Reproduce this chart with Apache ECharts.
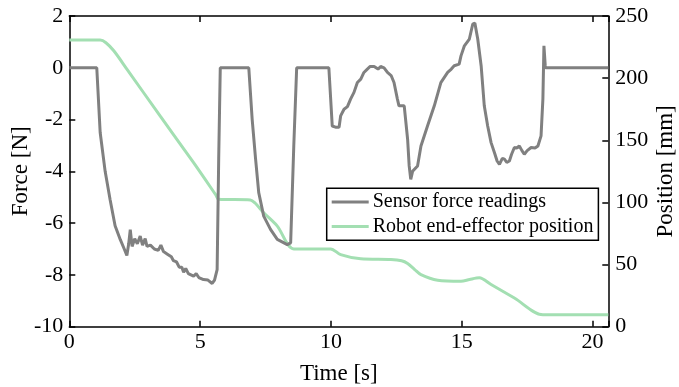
<!DOCTYPE html>
<html>
<head>
<meta charset="utf-8">
<script src="https://cdn.jsdelivr.net/npm/echarts@6/dist/echarts.min.js"></script>
<style>
html,body{margin:0;padding:0;background:#fff;}
#chart{width:679px;height:387px;}
</style>
</head>
<body>
<div id="chart"></div>
<script>
// Sensor force readings: time [s] and force [N]
const forceTime = [0,1.05,1.18,1.37,1.56,1.75,1.95,2.1,2.2,2.27,2.33,2.4,2.5,2.6,2.71,2.8,2.9,2.97,3.1,3.25,3.4,3.5,3.6,3.75,3.9,3.98,4.1,4.2,4.3,4.37,4.45,4.55,4.65,4.75,4.85,4.95,5.13,5.3,5.46,5.55,5.65,5.71,5.77,6.86,6.99,7.12,7.24,7.43,7.69,7.95,8.33,8.46,8.58,8.69,9.92,10.05,10.2,10.31,10.37,10.5,10.63,10.75,10.88,11.01,11.14,11.26,11.39,11.5,11.65,11.8,11.9,12.03,12.16,12.3,12.41,12.54,12.6,12.8,12.93,12.99,13.05,13.12,13.18,13.31,13.44,13.69,13.95,14.2,14.46,14.6,14.71,14.9,14.97,15.1,15.29,15.42,15.5,15.61,15.74,15.86,15.99,16.12,16.25,16.35,16.44,16.55,16.63,16.72,16.82,16.9,17.01,17.1,17.2,17.3,17.39,17.5,17.65,17.8,17.91,18.03,18.1,18.14,18.19,18.2,20.6];
const forceValues = [0,0,-2.5,-4.0,-5.1,-6.1,-6.64,-7.0,-7.25,-6.8,-6.25,-6.9,-6.6,-6.8,-6.5,-6.85,-6.6,-6.9,-6.85,-7.0,-7.05,-6.85,-7.1,-7.2,-7.3,-7.45,-7.5,-7.7,-7.7,-7.9,-7.75,-7.95,-8.0,-8.05,-7.95,-8.1,-8.18,-8.2,-8.33,-8.2,-7.8,-3.5,0,0,-2.0,-3.53,-4.82,-5.73,-6.24,-6.63,-6.83,-6.76,-3.0,0,0,-2.25,-2.3,-2.3,-1.86,-1.6,-1.5,-1.21,-0.95,-0.57,-0.44,-0.18,-0.05,0.05,0.05,-0.05,0.05,0.0,-0.18,-0.3,-0.57,-1.21,-1.47,-1.47,-2.76,-3.79,-4.31,-4.0,-4.05,-3.79,-3.02,-2.25,-1.47,-0.57,-0.18,-0.05,0.08,0.14,0.46,0.85,1.11,1.69,1.73,1.11,0.08,-1.47,-2.25,-2.89,-3.28,-3.6,-3.73,-3.5,-3.53,-3.65,-3.6,-3.35,-3.08,-3.1,-3.02,-3.2,-3.34,-3.2,-3.08,-3.1,-3.02,-2.63,-1.21,0.85,0.08,0,0];

// Robot end-effector position: time [s] and position [mm]
const posTime = [0,1.18,1.4,1.7,2.2,3.47,4.75,5.6,5.71,6.92,7.1,7.43,7.95,8.58,9.99,10.37,11.14,12.29,12.7,12.93,13.2,13.44,14.08,14.97,15.3,15.67,16.12,17.01,18.1,20.6];
const posValues = [230.6,230.6,228.5,222,207.3,169.6,132,106,102.5,102,99.5,91.7,80.9,62.6,62.6,58,54.6,54,53,50.8,46,41.9,37.4,36.5,38,39.3,33.9,23.1,9.7,9.7];

const xTicks = [0,5,10,15,20];
const forceTicks = [-10,-8,-6,-4,-2,0,2];
const posTicks = [0,50,100,150,200,250];

const seriesNames = ['Sensor force readings','Robot end-effector position'];
const axisTitles = {x:'Time [s]', left:'Force [N]', right:'Position [mm]'};

const font = "'Liberation Serif','Times New Roman',serif";
const forceData = forceTime.map((t,i)=>[t,forceValues[i]]);
const posData = posTime.map((t,i)=>[t,posValues[i]]);

const chart = echarts.init(document.getElementById('chart'), null, {renderer:'canvas'});
const axisLineStyle = {color:'#000', width:1.5};
const tickStyle = {show:true, inside:true, length:6, lineStyle:{color:'#000', width:1.5}};
const labelFont = 22, titleFont = 23;
chart.setOption({
  animation:false,
  backgroundColor:'#fff',
  textStyle:{fontFamily:font, color:'#000'},
  grid:{left:69.3, right:70.7, top:16, bottom:60.3, containLabel:false, outerBoundsMode:'none'},
  legend:{
    orient:'vertical',
    left:326.7, top:188.3,
    data:seriesNames,
    icon:'rect',
    itemWidth:37, itemHeight:3,
    itemGap:4.3,
    padding:[3.8,5,3.8,5],
    borderColor:'#000', borderWidth:1.5,
    backgroundColor:'#fff',
    textStyle:{fontFamily:font, fontSize:20, color:'#000', lineHeight:20, padding:[0,0,0,-1]}
  },
  xAxis:[{
    type:'value', min:0, max:20.6, interval:5,
    name:axisTitles.x, nameLocation:'middle', nameGap:36, nameMoveOverlap:false,
    nameTextStyle:{fontFamily:font, fontSize:titleFont, color:'#000'},
    axisLine:{show:true, onZero:false, lineStyle:axisLineStyle},
    axisTick:tickStyle,
    axisLabel:{fontFamily:font, fontSize:labelFont, color:'#000', margin:5,
      formatter:v=>xTicks.includes(v)?String(v):''},
    splitLine:{show:false}
  },{
    type:'value', position:'top', min:0, max:20.6, interval:5,
    axisLine:{show:true, onZero:false, lineStyle:axisLineStyle},
    axisTick:tickStyle,
    axisLabel:{show:false},
    splitLine:{show:false}
  }],
  yAxis:[{
    type:'value', min:-10, max:2, interval:2, position:'left',
    name:axisTitles.left, nameLocation:'middle', nameGap:37, nameRotate:90, nameMoveOverlap:false,
    nameTextStyle:{fontFamily:font, fontSize:titleFont, color:'#000'},
    axisLine:{show:true, onZero:false, lineStyle:axisLineStyle},
    axisTick:tickStyle,
    axisLabel:{fontFamily:font, fontSize:labelFont, color:'#000', margin:6,
      formatter:v=>forceTicks.includes(v)?String(v):''},
    splitLine:{show:false}
  },{
    type:'value', min:0, max:250, interval:50, position:'right',
    name:axisTitles.right, nameLocation:'middle', nameGap:46, nameRotate:90, nameMoveOverlap:false,
    nameTextStyle:{fontFamily:font, fontSize:titleFont, color:'#000'},
    axisLine:{show:true, onZero:false, lineStyle:axisLineStyle},
    axisTick:tickStyle,
    axisLabel:{fontFamily:font, fontSize:labelFont, color:'#000', margin:7,
      formatter:v=>posTicks.includes(v)?String(v):''},
    splitLine:{show:false}
  }],
  series:[{
    name:seriesNames[0], type:'line', xAxisIndex:0, yAxisIndex:0,
    data:forceData, showSymbol:false, symbol:'none',
    lineStyle:{color:'#808080', width:3},
    itemStyle:{color:'#808080'},
    z:3
  },{
    name:seriesNames[1], type:'line', xAxisIndex:0, yAxisIndex:1,
    data:posData, showSymbol:false, symbol:'none', smooth:0.3,
    lineStyle:{color:'#a3dfb2', width:3},
    itemStyle:{color:'#a3dfb2'},
    z:2
  }]
});
</script>
</body>
</html>
